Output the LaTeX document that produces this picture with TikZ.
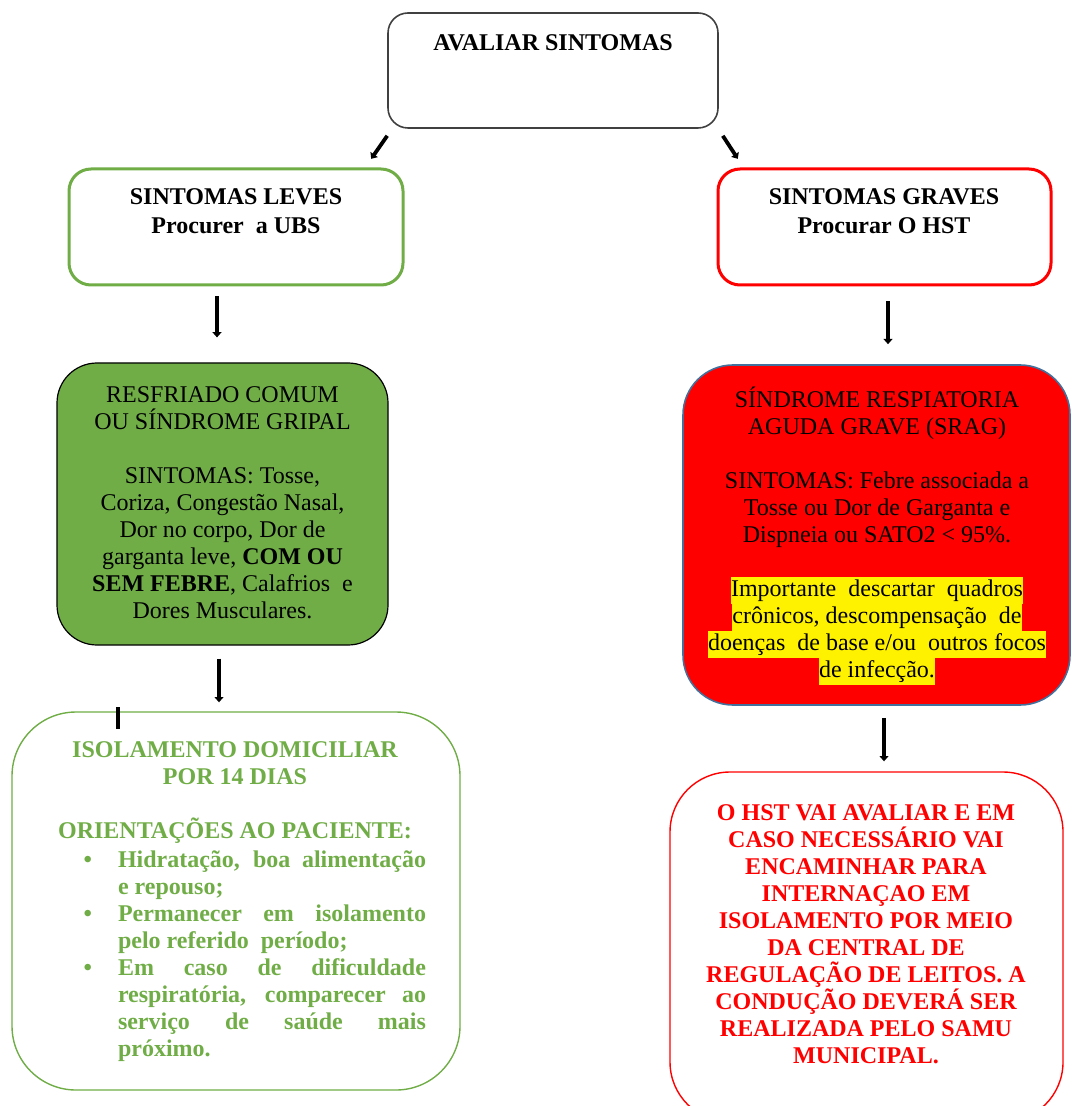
\documentclass[tikz,border=0pt]{standalone}
\usepackage{fontspec}
\setmainfont{Liberation Serif}
\usepackage{enumitem}
\usetikzlibrary{arrows.meta,calc}
\definecolor{verde}{HTML}{70AD47}
\definecolor{vermelho}{HTML}{FF0000}
\definecolor{azulborda}{HTML}{41719C}
\definecolor{cinza}{HTML}{404040}
\tikzset{
  caixa/.style={draw,rounded corners=#1,inner sep=0pt},
  seta/.style={line width=1.9pt,-{Triangle[length=2.6pt,width=4.4pt]}},
  marca/.style={line width=1.6pt},
  txt/.style={align=center,inner sep=0pt,font=\fontsize{12}{13.5}\selectfont}
}
\newcommand{\amar}[1]{\colorbox{yellow}{\strut #1}}
\setlength{\fboxsep}{0pt}

\begin{document}
\begin{tikzpicture}[x=0.5pt,y=-0.5pt]
\useasboundingbox (0,0) rectangle (1071,1106);
\node[caixa=10pt,draw=cinza,line width=0.8pt,minimum width=165pt,minimum height=57.5pt] (avaliar) at (553,70.5) {};
\node[txt,font=\bfseries\fontsize{12}{14.5}\selectfont] (avaliarTxt) at (553,43) {AVALIAR SINTOMAS};

\node[caixa=11pt,draw=verde,line width=1.5pt,minimum width=167pt,minimum height=58pt] (leves) at (236,227) {};
\node[txt,font=\bfseries\fontsize{12}{14.5}\selectfont] (levesTxt) at (236,211.5) {SINTOMAS LEVES\\Procurer\ \ a UBS};
\node[caixa=11pt,draw=vermelho,line width=1.5pt,minimum width=166.5pt,minimum height=58pt] (graves) at (884.5,227) {};
\node[txt,font=\bfseries\fontsize{12}{14.5}\selectfont] (gravesTxt) at (884,211.5) {SINTOMAS GRAVES\\Procurar O HST};

\node[caixa=20pt,fill=verde,draw=black,line width=0.6pt,minimum width=165.5pt,minimum height=141pt] (gripal) at (222.5,504) {};
\node[txt] (gripalTxt) at (222.5,503) {RESFRIADO COMUM\\OU SÍNDROME GRIPAL\\[13.5pt]SINTOMAS: Tosse,\\Coriza, Congestão Nasal,\\Dor no corpo, Dor de\\garganta leve, \textbf{COM OU}\\\textbf{SEM FEBRE}, Calafrios\ \ e\\Dores Musculares.};

\node[caixa=25pt,fill=vermelho,draw=azulborda,line width=0.8pt,minimum width=193.5pt,minimum height=170pt] (srag) at (876.5,535) {};
\node[txt] (sragTxt) at (877,536) {SÍNDROME RESPIATORIA\\AGUDA GRAVE (SRAG)\\[13.5pt]SINTOMAS: Febre associada a\\Tosse ou Dor de Garganta e\\Dispneia ou SATO2 < 95\%.\\[13.5pt]\amar{Importante\ \ descartar\ \ quadros}\\\amar{crônicos,\ descompensação\ \ de}\\\amar{doenças\ \ de base e/ou\ \ outros focos}\\\amar{de infecção.}};

\node[caixa=32pt,draw=verde,line width=0.7pt,minimum width=224pt,minimum height=189pt] (isol) at (236,901) {};
\node[inner sep=0pt,text=verde,font=\bfseries\fontsize{12}{13.5}\selectfont] (isolTxt) at (235,902) {\begin{minipage}{191pt}
{\centering ISOLAMENTO DOMICILIAR\\POR 14 DIAS\\[13.5pt]ORIENTAÇÕES AO PACIENTE:\par}
\hyphenpenalty=10000
\begin{itemize}[leftmargin=37pt,labelsep=13pt,label=\textbullet,itemsep=0pt,topsep=1pt,parsep=0pt,partopsep=0pt]
\item Hidratação, boa alimentação\linebreak e repouso;
\item Permanecer em isolamento\linebreak pelo referido\ \ período;
\item Em caso de dificuldade\linebreak respiratória, comparecer ao\linebreak serviço de saúde mais\linebreak próximo.
\end{itemize}
\end{minipage}};

\node[caixa=30pt,draw=vermelho,line width=0.7pt,minimum width=196.5pt,minimum height=175pt] (hst) at (866.5,947) {};
\node[txt,text=vermelho,font=\bfseries\fontsize{12}{13.5}\selectfont] (hstTxt) at (866,934.5) {O HST VAI AVALIAR E EM\\CASO NECESSÁRIO VAI\\ENCAMINHAR PARA\\INTERNAÇAO EM\\ISOLAMENTO POR MEIO\\DA CENTRAL DE\\REGULAÇÃO DE LEITOS. A\\CONDUÇÃO DEVERÁ SER\\REALIZADA PELO SAMU\\MUNICIPAL.};

\draw[seta] ($(avaliar.south west)+(0,7)$) -- ($(avaliar.south west)+(-16,30)$);
\draw[seta] ($(avaliar.south east)+(4,7)$) -- ($(avaliar.south east)+(19,30)$);
\draw[seta] ($(leves.south -| gripal.north)+(-5.5,10)$) -- ($(gripal.north)+(-5.5,-25)$);
\draw[seta] ($(graves.south)+(3.5,15)$) -- ($(graves.south |- srag.north)+(3.5,-20)$);
\draw[seta] ($(gripal.south)+(-3.5,13)$) -- ($(gripal.south |- isol.north)+(-3.5,-9)$);
\draw[seta] ($(srag.south)+(7.5,12)$) -- ($(srag.south |- hst.north)+(7.5,-10)$);
\draw[marca] ($(isol.north)+(-118,-4)$) -- ($(isol.north)+(-118,18)$);
\end{tikzpicture}
\end{document}
